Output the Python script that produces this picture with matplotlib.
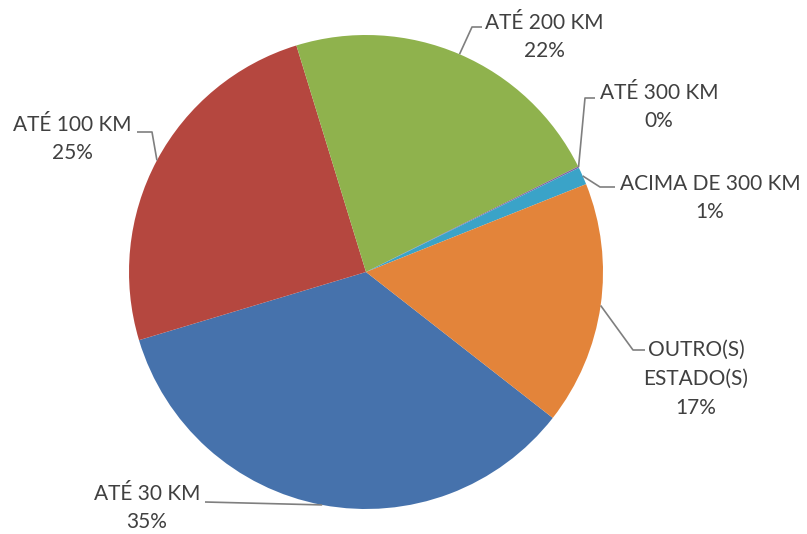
import numpy as np
import matplotlib.pyplot as plt

# === Data ===
categories = ['ATÉ 30 KM', 'ATÉ 100 KM', 'ATÉ 200 KM', 'ATÉ 300 KM',
              'ACIMA DE 300 KM', 'OUTRO(S)\nESTADO(S)']
shares = [34.8, 24.9, 22.4, 0.1, 1.2, 16.6]

colors = ['#4672AC', '#B5473F', '#8FB24D', '#8064A2', '#3AA3C8', '#E3843A']

# === Layout (pixel coords, y down) ===
W, H = 807, 534
center_px = (366, 272)
radius = 237

# label block centres and leader line elbows/ends
label_pos = [(147, 508), (72, 139), (544, 37), (659, 107), (710, 198), (696, 379)]
leader_pts = [
    [(205, 502)],
    [(152, 132), (137, 132)],
    [(472, 27), (482, 27)],
    [(585, 98), (595, 98)],
    [(600, 187), (615, 187)],
    [(633, 350), (645, 350)],
]

fig = plt.figure(figsize=(W / 100, H / 100), dpi=100)
ax = fig.add_axes([0, 0, 1, 1])

cx, cy = center_px[0], H - center_px[1]
wedges, _ = ax.pie(shares, colors=colors, startangle=-38, counterclock=False,
                   center=(cx, cy), radius=radius,
                   wedgeprops=dict(linewidth=0))

ax.set_xlim(0, W)
ax.set_ylim(0, H)
ax.set_aspect('equal')
ax.axis('off')

for i, w in enumerate(wedges):
    mid = np.deg2rad((w.theta1 + w.theta2) / 2)
    x0 = cx + radius * np.cos(mid)
    y0 = cy + radius * np.sin(mid)
    xs = [x0] + [p[0] for p in leader_pts[i]]
    ys = [y0] + [H - p[1] for p in leader_pts[i]]
    ax.plot(xs, ys, color='#7f7f7f', lw=1.2, solid_capstyle='butt')

    lx, ly = label_pos[i]
    ax.text(lx, H - ly, f'{categories[i]}\n{shares[i]:.0f}%',
            ha='center', va='center', fontsize=15, color='#404040',
            family='Lato', linespacing=1.55)

fig.savefig('out.png', dpi=100, facecolor='white')
